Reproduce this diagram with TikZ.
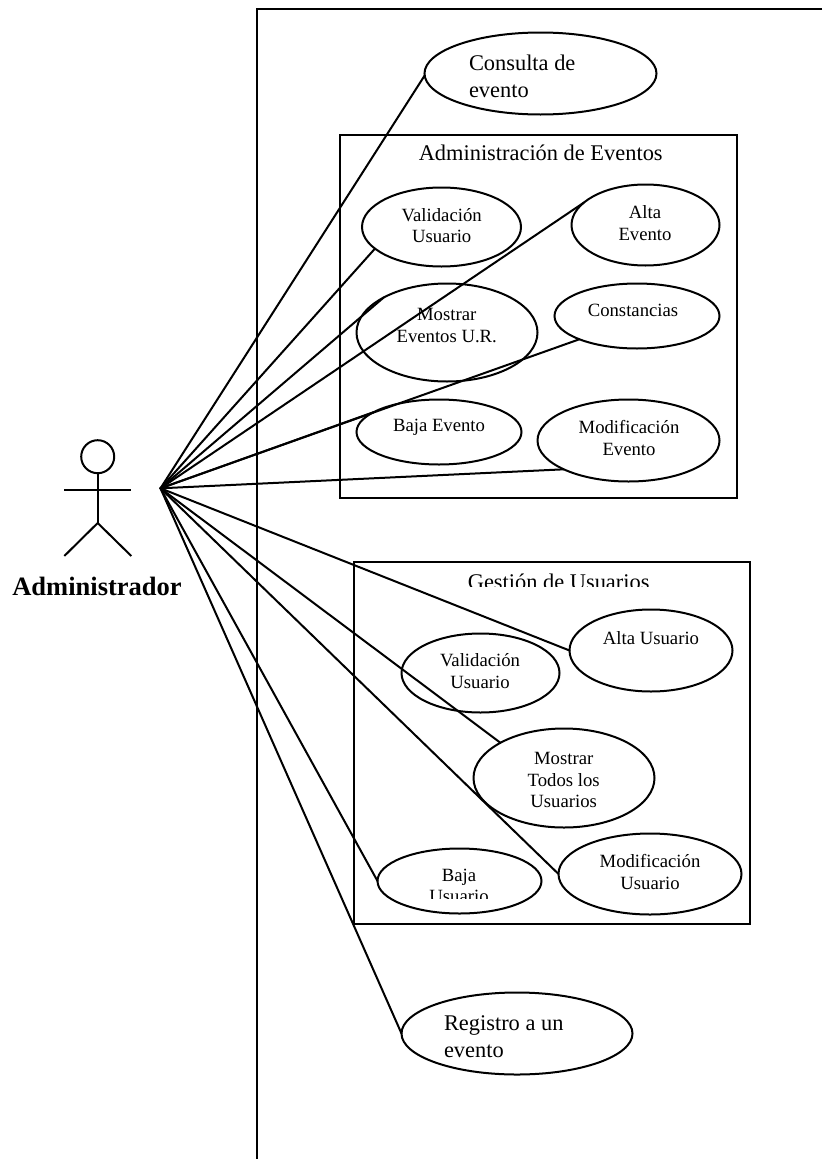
\documentclass[tikz,border=0pt]{standalone}
\usepackage{fontspec}
\setmainfont{Liberation Serif}
\usetikzlibrary{shapes.geometric}
\tikzset{
  ink/.style={line width=2pt,black},
  usecase/.style={draw,ink,ellipse,inner sep=0pt,outer sep=0pt},
  groupbox/.style={draw,ink,rectangle,inner sep=0pt,outer sep=0pt},
  small/.style={inner sep=0pt,outer sep=0pt,align=center,anchor=base,font=\fontsize{18.7}{21.5}\selectfont},
  large/.style={inner sep=0pt,outer sep=0pt,align=left,anchor=base west,font=\fontsize{22.4}{26.5}\selectfont},
  title/.style={inner sep=0pt,outer sep=0pt,anchor=base,font=\fontsize{22.4}{26.5}\selectfont},
  assoc/.style={ink,line cap=round},
}
\begin{document}
\begin{tikzpicture}[x=1pt,y=-1pt]
\useasboundingbox (0,0) rectangle (822,1159);
% system boundary (open to the right and bottom)
\draw[ink] (822,8.5) -- (257,8.5) -- (257,1159);
% groups
\node[groupbox,minimum width=397pt,minimum height=363pt] (adm) at (538,316) {};
\node[groupbox,minimum width=396pt,minimum height=362pt] (ges) at (551.5,742.5) {};
% use cases
\node[usecase,minimum width=232pt,minimum height=82pt] (consulta) at (540.5,73.5) {};
\node[usecase,minimum width=159pt,minimum height=79pt] (valev) at (441.5,227) {};
\node[usecase,minimum width=148pt,minimum height=81pt] (altaev) at (645.5,225) {};
\node[usecase,minimum width=181pt,minimum height=98pt] (mostev) at (447,332.5) {};
\node[usecase,minimum width=165pt,minimum height=65pt] (const) at (637,316) {};
\node[usecase,minimum width=165pt,minimum height=65pt] (bajaev) at (439,432) {};
\node[usecase,minimum width=182pt,minimum height=82pt] (modev) at (628.5,440.5) {};
\node[usecase,minimum width=163pt,minimum height=82pt] (altaus) at (651,650.5) {};
\node[usecase,minimum width=158pt,minimum height=79pt] (valus) at (480.5,673) {};
\node[usecase,minimum width=181pt,minimum height=99pt] (mostus) at (564,778) {};
\node[usecase,minimum width=164pt,minimum height=65pt] (bajaus) at (459.5,881) {};
\node[usecase,minimum width=183pt,minimum height=81pt] (modus) at (650,874) {};
\node[usecase,minimum width=231pt,minimum height=82pt] (registro) at (517,1033.5) {};
% texts
\node[large] (tconsulta) at (469,97) {Consulta de\\evento};
\node[title] (tadm) at (540.7,160.7) {Administración de Eventos};
\node[small] (tvalev) at (441.7,242.7) {Validación\\Usuario};
\node[small] (taltaev) at (645,240) {Alta\\Evento};
\node[small] (tmostev) at (446.7,342) {Mostrar\\Eventos U.R.};
\node[small] (tconst) at (633,316) {Constancias};
\node[small] (tbajaev) at (439,431) {Baja Evento};
\node[small] (tmodev) at (629,455) {Modificación\\Evento};
\begin{scope}
  \clip (353,561) rectangle (750,586);
  \node[title] (tges) at (558.7,589.5) {Gestión de Usuarios};
\end{scope}
\node[small] (taltaus) at (651,644) {Alta Usuario};
\node[small] (tvalus) at (480,688) {Validación\\Usuario};
\node[small] (tmostus) at (563.7,807.7) {Mostrar\\Todos los\\Usuarios};
\begin{scope}
  \clip (377,848) rectangle (542,898);
  \node[small] (tbajaus) at (459,902.5) {Baja\\Usuario};
\end{scope}
\node[small] (tmodus) at (650,889) {Modificación\\Usuario};
\node[large] (tregistro) at (444,1057) {Registro a un\\evento};
% actor
\node[circle,draw,ink,minimum size=33pt,inner sep=0pt,outer sep=0pt] (head) at (97.7,456.7) {};
\coordinate (hip) at (97.7,523);
\coordinate (armL) at (64.3,490);
\coordinate (armR) at (131.3,490);
\coordinate (legL) at (64.3,556);
\coordinate (legR) at (131.3,556);
\draw[ink] (head.south) -- (hip);
\draw[ink] (armL) -- (armR);
\draw[ink] (legL) -- (hip) -- (legR);
\node[inner sep=0pt,outer sep=0pt,anchor=base,font=\fontsize{26.5}{30}\selectfont\bfseries] (tadmin) at (97,595) {Administrador};
% associations
\coordinate (hub) at (160.5,488.3);
\draw[assoc] (hub) -- (consulta.181);
\draw[assoc] (hub) -- (valev.198.8);
\draw[assoc] (hub) -- (mostev.151);
\draw[assoc] (hub) -- (altaev.160.6);
\draw[assoc] (hub) -- (const.202);
\draw[assoc] (hub) -- (bajaev.163);
\draw[assoc] (hub) -- (modev.204);
\draw[assoc] (hub) -- (altaus.180);
\draw[assoc] (hub) -- (mostus.151.4);
\draw[assoc] (hub) -- (modus.180);
\draw[assoc] (hub) -- (bajaus.180);
\draw[assoc] (hub) -- (registro.180);
\end{tikzpicture}
\end{document}
